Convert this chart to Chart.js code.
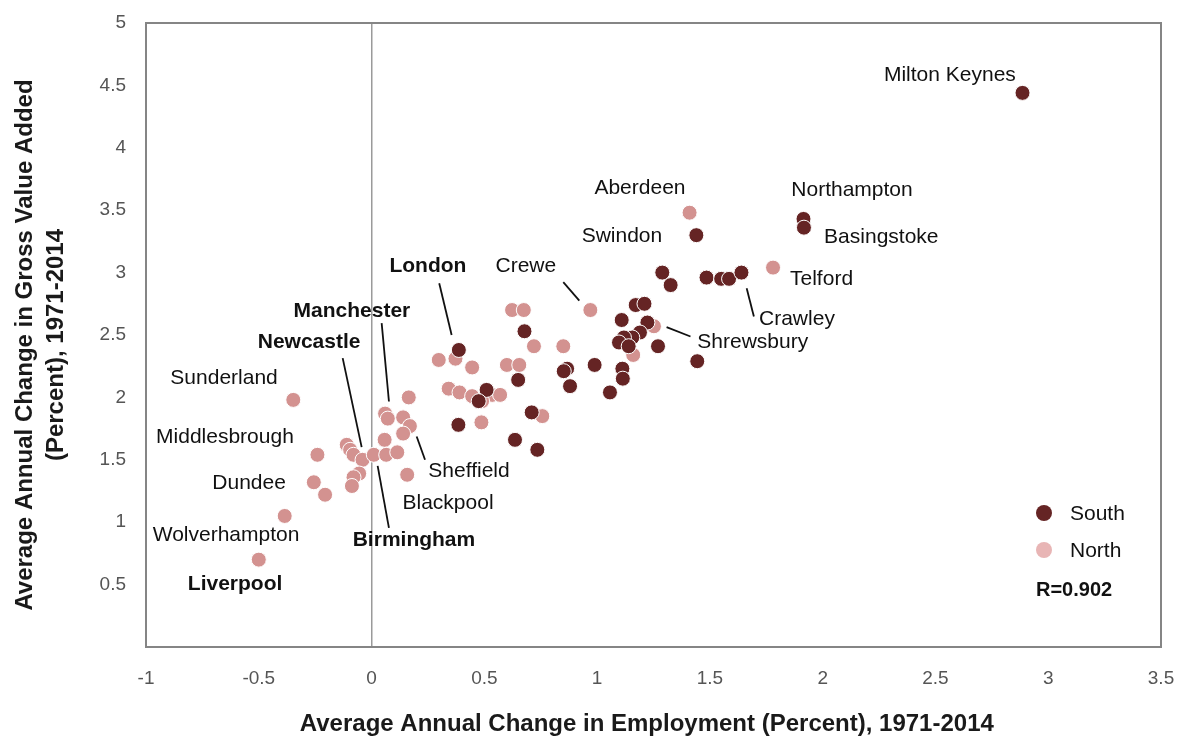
<!DOCTYPE html>
<html>
<head>
<meta charset="utf-8">
<script src="https://cdn.jsdelivr.net/npm/chart.js@4.4.1/dist/chart.umd.min.js"></script>
<style>
html,body{margin:0;padding:0;background:#ffffff;}
#wrap{width:1181px;height:740px;position:relative;}
</style>
</head>
<body>
<div id="wrap"><canvas id="c" width="1181" height="740"></canvas></div>
<script>
// ---------------- DATA ----------------
const seriesNames = ['South', 'North'];

const southX = [2.886, 1.915, 1.917, 1.44, 1.289, 1.326, 1.485, 1.55, 1.585, 1.64,
  1.171, 1.21, 1.109, 1.223, 1.19, 1.156, 1.119, 1.097, 1.14, 1.27,
  1.444, 0.989, 1.112, 1.114, 1.057, 0.678, 0.387, 0.65, 0.867, 0.852,
  0.88, 0.51, 0.475, 0.385, 0.71, 0.636, 0.735];
const southY = [4.44, 3.43, 3.36, 3.30, 3.00, 2.90, 2.96, 2.95, 2.95, 3.00,
  2.74, 2.75, 2.62, 2.60, 2.52, 2.48, 2.48, 2.44, 2.41, 2.41,
  2.29, 2.26, 2.23, 2.15, 2.04, 2.53, 2.38, 2.14, 2.23, 2.21,
  2.09, 2.06, 1.97, 1.78, 1.88, 1.66, 1.58];

const northX = [1.41, 1.78, 0.97, 1.252, 1.16, 0.623, 0.675, 0.72, 0.85, 0.372,
  0.298, 0.446, 0.60, 0.655, 0.342, 0.39, 0.446, 0.535, 0.57, 0.49,
  0.487, 0.757, -0.347, -0.24, -0.256, -0.206, -0.385, -0.50, -0.11, -0.095,
  -0.08, -0.04, -0.055, -0.08, -0.087, 0.01, 0.06, 0.072, 0.14, 0.17,
  0.14, 0.165, 0.058, 0.065, 0.114, 0.158];
const northY = [3.48, 3.04, 2.70, 2.57, 2.34, 2.70, 2.70, 2.41, 2.41, 2.31,
  2.30, 2.24, 2.26, 2.26, 2.07, 2.04, 2.01, 2.02, 2.02, 1.97,
  1.80, 1.85, 1.98, 1.54, 1.32, 1.22, 1.05, 0.70, 1.62, 1.58,
  1.54, 1.50, 1.39, 1.36, 1.29, 1.54, 1.87, 1.83, 1.84, 1.77,
  1.71, 2.00, 1.66, 1.54, 1.56, 1.38];

const xTicks = [-1, -0.5, 0, 0.5, 1, 1.5, 2, 2.5, 3, 3.5];
const yTicks = [0.5, 1, 1.5, 2, 2.5, 3, 3.5, 4, 4.5, 5];

const xTitle = 'Average Annual Change in Employment (Percent), 1971-2014';
const yTitle = ['Average Annual Change in Gross Value Added', '(Percent), 1971-2014'];
const correlationText = 'R=0.902';

// City annotations (anchored in data units)
const cityNames = ['Milton Keynes', 'Aberdeen', 'Northampton', 'Swindon', 'Basingstoke',
  'Telford', 'Crewe', 'London', 'Crawley', 'Shrewsbury', 'Manchester', 'Newcastle',
  'Sunderland', 'Middlesbrough', 'Sheffield', 'Dundee', 'Blackpool', 'Wolverhampton',
  'Birmingham', 'Liverpool'];
const cityLabelX = [2.564, 1.19, 2.13, 1.11, 2.26, 1.995, 0.684, 0.25, 1.886, 1.69,
  -0.087, -0.277, -0.654, -0.65, 0.432, -0.543, 0.339, -0.645, 0.188, -0.605];
const cityLabelY = [4.58, 3.68, 3.66, 3.29, 3.28, 2.95, 3.05, 3.05, 2.63, 2.445,
  2.69, 2.445, 2.15, 1.684, 1.41, 1.316, 1.156, 0.892, 0.852, 0.50];
const cityBold = [false, false, false, false, false, false, false, true, false, false,
  true, true, false, false, false, false, false, false, true, true];

// Leader lines (data units)
const leaderX1 = [0.300, 0.850, 0.0448, -0.128, 0.200, 0.027, 1.308, 1.663];
const leaderY1 = [2.915, 2.923, 2.595, 2.315, 1.687, 1.452, 2.563, 2.875];
const leaderX2 = [0.355, 0.921, 0.0771, -0.0439, 0.237, 0.077, 1.414, 1.695];
const leaderY2 = [2.50, 2.776, 1.967, 1.602, 1.500, 0.954, 2.488, 2.648];

// ---------------- STYLE ----------------
const FONT = "'Liberation Sans', Arial, Helvetica, sans-serif";
const SOUTH_COLOR = '#652424';
const NORTH_COLOR = '#d39290';
const NORTH_LEGEND = '#e8b5b5';

const toPoints = (xs, ys) => xs.map((v, i) => ({ x: v, y: ys[i] }));

const decorPlugin = {
  id: 'decor',
  afterDatasetsDraw(chart) {
    const { ctx, chartArea: a, scales: { x, y } } = chart;
    ctx.save();
    // leader lines
    ctx.strokeStyle = '#111111';
    ctx.lineWidth = 1.8;
    ctx.lineCap = 'butt';
    for (let i = 0; i < leaderX1.length; i++) {
      ctx.beginPath();
      ctx.moveTo(x.getPixelForValue(leaderX1[i]), y.getPixelForValue(leaderY1[i]));
      ctx.lineTo(x.getPixelForValue(leaderX2[i]), y.getPixelForValue(leaderY2[i]));
      ctx.stroke();
    }
    // city labels
    ctx.fillStyle = '#111111';
    ctx.textAlign = 'center';
    ctx.textBaseline = 'middle';
    for (let i = 0; i < cityNames.length; i++) {
      ctx.font = (cityBold[i] ? 'bold ' : '') + '21px ' + FONT;
      ctx.fillText(cityNames[i], x.getPixelForValue(cityLabelX[i]), y.getPixelForValue(cityLabelY[i]));
    }
    // legend
    const colors = [SOUTH_COLOR, NORTH_LEGEND];
    const lx = a.right - 117, tx = a.right - 91;
    const rows = [a.top + 490, a.top + 527];
    ctx.textAlign = 'left';
    ctx.font = '21px ' + FONT;
    for (let i = 0; i < seriesNames.length; i++) {
      ctx.beginPath();
      ctx.arc(lx, rows[i], 8, 0, Math.PI * 2);
      ctx.fillStyle = colors[i];
      ctx.fill();
      ctx.fillStyle = '#111111';
      ctx.fillText(seriesNames[i], tx, rows[i] + 1);
    }
    ctx.font = 'bold 20px ' + FONT;
    ctx.fillText(correlationText, a.right - 125, a.top + 567);
    ctx.restore();
  },
  afterDraw(chart) {
    const { ctx, chartArea: a } = chart;
    ctx.save();
    ctx.strokeStyle = '#858585';
    ctx.lineWidth = 2;
    ctx.strokeRect(a.left, a.top, a.right - a.left, a.bottom - a.top);
    ctx.restore();
  }
};

const tickText = v => String(v);

new Chart(document.getElementById('c'), {
  type: 'scatter',
  data: {
    datasets: [
      { label: seriesNames[0], data: toPoints(southX, southY), backgroundColor: SOUTH_COLOR,
        borderColor: '#ffffff', borderWidth: 1, pointRadius: 7.5, pointHoverRadius: 7.5 },
      { label: seriesNames[1], data: toPoints(northX, northY), backgroundColor: NORTH_COLOR,
        borderColor: '#ffffff', borderWidth: 1, pointRadius: 7.5, pointHoverRadius: 7.5 }
    ]
  },
  options: {
    responsive: false,
    devicePixelRatio: 1,
    animation: false,
    events: [],
    layout: { padding: { left: 0, right: 20, top: 23, bottom: 0 } },
    plugins: { legend: { display: false }, tooltip: { enabled: false } },
    scales: {
      x: {
        type: 'linear', min: -1, max: 3.5,
        afterBuildTicks: s => { s.ticks = xTicks.map(v => ({ value: v })); },
        afterFit: s => { s.height = 93; s.paddingLeft = 0; s.paddingRight = 0; },
        ticks: { color: '#555555', font: { family: FONT, size: 19 }, padding: 20, autoSkip: false, maxRotation: 0,
          callback: tickText },
        grid: {
          drawTicks: false,
          color: c => (c.tick && c.tick.value === 0) ? '#9a9a9a' : 'rgba(0,0,0,0)',
          lineWidth: 1.5
        },
        border: { display: false },
        title: { display: true, text: xTitle + '  ', color: '#1a1a1a',
          font: { family: FONT, size: 24, weight: 'bold', lineHeight: 1.2 }, padding: { top: 0, bottom: 1 } }
      },
      y: {
        type: 'linear', min: 0, max: 5,
        afterBuildTicks: s => { s.ticks = yTicks.map(v => ({ value: v })); },
        afterFit: s => { s.width = 146; s.paddingTop = 0; s.paddingBottom = 0; },
        ticks: { color: '#555555', font: { family: FONT, size: 19 }, padding: 20, autoSkip: false,
          callback: tickText },
        grid: { display: false, drawTicks: false },
        border: { display: false },
        title: { display: true, text: yTitle.map(t => t + '   '), color: '#1a1a1a',
          font: { family: FONT, size: 24, weight: 'bold', lineHeight: 1.3 }, padding: { top: 10, bottom: 0 } }
      }
    }
  },
  plugins: [decorPlugin]
});
</script>
</body>
</html>
